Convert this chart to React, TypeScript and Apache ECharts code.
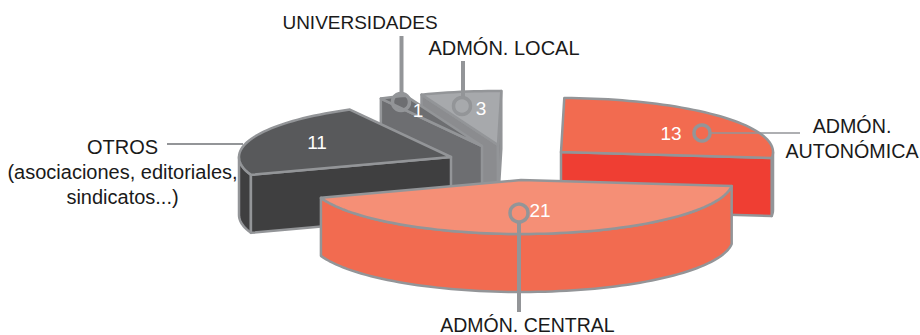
import React, { useEffect, useRef } from "react";
import * as echarts from "echarts";

const categories = ["ADMÓN. CENTRAL", "OTROS", "UNIVERSIDADES", "ADMÓN. LOCAL", "ADMÓN. AUTONÓMICA"];
const values = [21, 11, 1, 3, 13];
const drawOrder = [3, 2, 1, 4, 0];

const apexes = [[521, 180], [451, 157], [482, 146], [498, 145], [561, 152]];
const topColors = ["#f58f76", "#58595b", "#6d6e71", "#a7a9ac", "#f26b50"];
const wallColors = ["#f26b50", "#3f3f40", "#6d6e71", "#8b8c8f", "#ef3e33"];
const numberPos = [[540, 210], [317, 142], [418, 110], [481, 108], [671, 133]];

const RX = 212, RY = 54, H = 58, START = 6.4;
const BORDER = "#939598";
const FONT = "'Liberation Sans', Arial, sans-serif";

const total = values.reduce((a, b) => a + b, 0);
const starts: number[] = [];
values.reduce((acc, v, i) => { starts[i] = acc; return acc + (v / total) * 360; }, START);

const rad = (d: number) => (d * Math.PI) / 180;

function renderItem(params: any, api: any) {
  const i = api.value(0);
  const v = api.value(1);
  const a0 = starts[i];
  const a1 = a0 + (v / total) * 360;
  const [cx, cy] = apexes[i];
  const pt = (d: number, dy = 0) => [cx + RX * Math.cos(rad(d)), cy + RY * Math.sin(rad(d)) + dy];
  const arc = (from: number, to: number, dy = 0) => {
    const n = Math.max(2, Math.ceil(Math.abs(to - from) / 2));
    const out: number[][] = [];
    for (let k = 0; k <= n; k++) out.push(pt(from + ((to - from) * k) / n, dy));
    return out;
  };
  const children: any[] = [];
  const poly = (points: number[][], fill: string) =>
    children.push({
      type: "polygon",
      shape: { points },
      style: { fill, stroke: BORDER, lineWidth: 2.5, lineJoin: "round" },
    });
  // outer rim: only the front half of the ellipse shows
  for (const [lo, hi] of [[0, 180], [360, 540]]) {
    const f = Math.max(a0, lo), t = Math.min(a1, hi);
    if (t > f) poly([...arc(f, t), ...arc(t, f, H)], wallColors[i]);
  }
  // walls along the radial edges that face the viewer
  if (Math.cos(rad(a0)) < 0) {
    const p = pt(a0);
    poly([[cx, cy], p, [p[0], p[1] + H], [cx, cy + H]], wallColors[i]);
  }
  if (Math.cos(rad(a1)) > 0) {
    const p = pt(a1);
    poly([[cx, cy], p, [p[0], p[1] + H], [cx, cy + H]], wallColors[i]);
  }
  // top face
  poly([[cx, cy], ...arc(a0, a1)], topColors[i]);
  children.push({
    type: "text",
    x: numberPos[i][0],
    y: numberPos[i][1],
    z2: 10,
    style: {
      text: String(v),
      fill: "#ffffff",
      font: `19px ${FONT}`,
      align: "center",
      verticalAlign: "middle",
    },
  });
  return { type: "group", children };
}

const label = (text: string, x: number, y: number, size: number, lineHeight = 25) => ({
  type: "text",
  x,
  y,
  z: 100,
  style: {
    text,
    fill: "#1a1a1a",
    font: `${size}px ${FONT}`,
    align: "center",
    verticalAlign: "middle",
    lineHeight,
  },
});

const seg = (x1: number, y1: number, x2: number, y2: number, lineWidth: number) => ({
  type: "line",
  z: 100,
  shape: { x1, y1, x2, y2 },
  style: { stroke: BORDER, lineWidth },
});

const ring = (cx: number, cy: number, r: number) => ({
  type: "circle",
  z: 100,
  shape: { cx, cy, r },
  style: { fill: "none", stroke: BORDER, lineWidth: 3.5 },
});

export default function App() {
  const ref = useRef<HTMLDivElement>(null);
  useEffect(() => {
    document.body.style.margin = "0";
    const chart = echarts.init(ref.current!, null, { renderer: "svg" });
    chart.setOption({
      animation: false,
      backgroundColor: "#ffffff",
      series: [
        {
          type: "custom",
          coordinateSystem: "none",
          silent: true,
          clip: false,
          z: 1,
          renderItem,
          data: drawOrder.map((i) => ({ name: categories[i], value: [i, values[i]] })),
        },
      ],
      graphic: [
        seg(519, 222, 519, 312, 4),
        ring(519, 213, 9),
        seg(401.5, 36, 401.5, 94, 4),
        ring(401, 102, 8.5),
        seg(463, 61, 463, 98, 4),
        ring(462, 106, 8.5),
        seg(710, 133, 800, 133, 1.5),
        ring(702, 133, 8),
        seg(167, 144, 243, 144, 1.8),
        label("UNIVERSIDADES", 360, 22, 19),
        label("ADMÓN. LOCAL", 504, 48, 20),
        label("ADMÓN.\nAUTONÓMICA", 852, 138, 19.7),
        label("OTROS\n(asociaciones, editoriales,\nsindicatos...)", 122.5, 172, 20),
        label("ADMÓN. CENTRAL", 527.5, 325, 19.5, 19),
      ],
    });
    return () => chart.dispose();
  }, []);
  return <div ref={ref} style={{ width: 920, height: 335 }} />;
}
